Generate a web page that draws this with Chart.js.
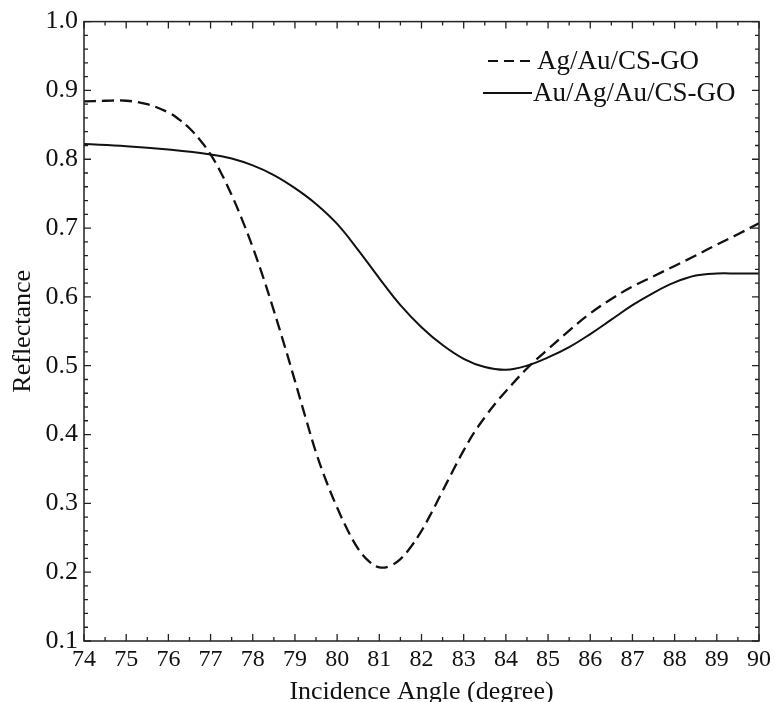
<!DOCTYPE html>
<html>
<head>
<meta charset="utf-8">
<script src="https://cdn.jsdelivr.net/npm/chart.js@4"></script>
<style>
html,body{margin:0;padding:0;background:#fff;overflow:hidden;}
#wrap{width:775px;height:702px;position:relative;}
</style>
</head>
<body>
<div id="wrap"><canvas id="c" width="775" height="702"></canvas></div>
<script>
// ---- data ----
const seriesNames = ["Ag/Au/CS-GO", "Au/Ag/Au/CS-GO"];
const agAuAngle = [74,74.5,75,75.5,76,76.25,76.5,76.75,77,77.25,77.5,77.75,78,78.25,78.5,78.75,79,79.25,79.5,79.75,80,80.25,80.5,80.75,81,81.25,81.5,81.75,82,82.25,82.5,82.75,83,83.25,83.5,83.75,84,84.5,85,85.5,86,86.5,87,87.5,88,88.5,89,89.5,90];
const agAuRefl  = [0.884,0.885,0.885,0.880,0.868,0.858,0.845,0.828,0.807,0.780,0.748,0.712,0.672,0.628,0.580,0.530,0.478,0.425,0.374,0.331,0.294,0.261,0.234,0.216,0.207,0.209,0.219,0.237,0.260,0.288,0.318,0.348,0.377,0.403,0.425,0.445,0.463,0.496,0.524,0.551,0.576,0.597,0.615,0.630,0.645,0.660,0.676,0.691,0.707];
const auAgAuAngle = [74,75,76,77,77.5,78,78.5,79,79.5,80,80.5,81,81.5,82,82.5,83,83.5,84,84.5,85,85.5,86,86.5,87,87.5,88,88.5,89,89.5,90];
const auAgAuRefl  = [0.822,0.819,0.814,0.807,0.801,0.791,0.777,0.758,0.735,0.706,0.668,0.627,0.588,0.556,0.530,0.510,0.498,0.494,0.500,0.512,0.527,0.546,0.567,0.588,0.606,0.621,0.631,0.634,0.634,0.634];
const xTitle = "Incidence Angle (degree)";
const yTitle = "Reflectance";
const xMin = 74, xMax = 90, yMin = 0.1, yMax = 1.0;

const pts = (xs, ys) => xs.map((x, i) => ({x: x, y: ys[i]}));
const FONT = "'Liberation Serif', 'Times New Roman', serif";

const isMult = (v, step) => Math.abs(v / step - Math.round(v / step)) < 1e-6;

const frameTicks = {
  id: 'frameTicks',
  afterDatasetsDraw(chart) {
    const {ctx, chartArea: a, scales: {x, y}} = chart;
    ctx.save();
    ctx.strokeStyle = '#222';
    ctx.lineWidth = 1.5;
    ctx.strokeRect(a.left, a.top, a.right - a.left, a.bottom - a.top);
    ctx.lineWidth = 1.3;
    ctx.beginPath();
    x.ticks.forEach(t => {
      const px = x.getPixelForValue(t.value);
      const L = isMult(t.value, 1) ? 7 : 4;
      ctx.moveTo(px, a.bottom); ctx.lineTo(px, a.bottom - L);
      ctx.moveTo(px, a.top); ctx.lineTo(px, a.top + L);
    });
    y.ticks.forEach(t => {
      const py = y.getPixelForValue(t.value);
      const L = isMult(t.value, 0.1) ? 7 : 4;
      ctx.moveTo(a.left, py); ctx.lineTo(a.left + L, py);
      ctx.moveTo(a.right, py); ctx.lineTo(a.right - L, py);
    });
    ctx.stroke();
    ctx.restore();
  }
};

const innerLegend = {
  id: 'innerLegend',
  afterDraw(chart) {
    const ctx = chart.ctx;
    const rows = [{y: 61, x0: 488, x1: 532, tx: 537}, {y: 93, x0: 483, x1: 532, tx: 533}];
    ctx.save();
    chart.data.datasets.forEach((ds, i) => {
      const r = rows[i];
      ctx.strokeStyle = ds.borderColor;
      ctx.lineWidth = 2.2;
      ctx.setLineDash(i === 0 ? [10, 6] : []);
      ctx.beginPath(); ctx.moveTo(r.x0, r.y); ctx.lineTo(r.x1, r.y); ctx.stroke();
      ctx.setLineDash([]);
      ctx.fillStyle = '#111';
      ctx.font = "27px " + FONT;
      ctx.textBaseline = 'middle';
      ctx.textAlign = 'left';
      ctx.fillText(ds.label, r.tx, r.y + 1);
    });
    ctx.restore();
  }
};

new Chart(document.getElementById('c'), {
  type: 'line',
  data: {
    datasets: [
      {label: seriesNames[0], data: pts(agAuAngle, agAuRefl), borderColor: '#111', borderWidth: 2.3,
       borderDash: [12, 6], pointRadius: 0, tension: 0.4, fill: false},
      {label: seriesNames[1], data: pts(auAgAuAngle, auAgAuRefl), borderColor: '#111', borderWidth: 2,
       pointRadius: 0, tension: 0.4, fill: false}
    ]
  },
  options: {
    responsive: false,
    animation: false,
    devicePixelRatio: 1,
    layout: {padding: {left: 0, right: 15, top: 21, bottom: 0}},
    plugins: {legend: {display: false}, tooltip: {enabled: false}},
    scales: {
      x: {
        type: 'linear', min: xMin, max: xMax,
        grid: {display: false, drawTicks: false},
        border: {display: false},
        afterFit: s => { s.height = 61; },
        ticks: {
          stepSize: 0.5, autoSkip: false, maxRotation: 0, padding: 4,
          color: '#111', font: {family: FONT, size: 24},
          callback: v => isMult(v, 1) ? String(Math.round(v)) : ''
        },
        title: {display: true, text: xTitle, color: '#111', font: {family: FONT, size: 26}, padding: {top: 0, bottom: -6}}
      },
      y: {
        min: yMin, max: yMax,
        grid: {display: false, drawTicks: false},
        border: {display: false},
        afterFit: s => { s.width = 84; },
        ticks: {
          stepSize: 0.02, autoSkip: false, padding: 6,
          color: '#111', font: {family: FONT, size: 26},
          callback: v => isMult(v, 0.1) ? (Math.round(v * 10) / 10).toFixed(1) : ''
        },
        title: {display: true, text: yTitle, color: '#111', font: {family: FONT, size: 26}, padding: {top: 8, bottom: 0}}
      }
    }
  },
  plugins: [frameTicks, innerLegend]
});
</script>
</body>
</html>
